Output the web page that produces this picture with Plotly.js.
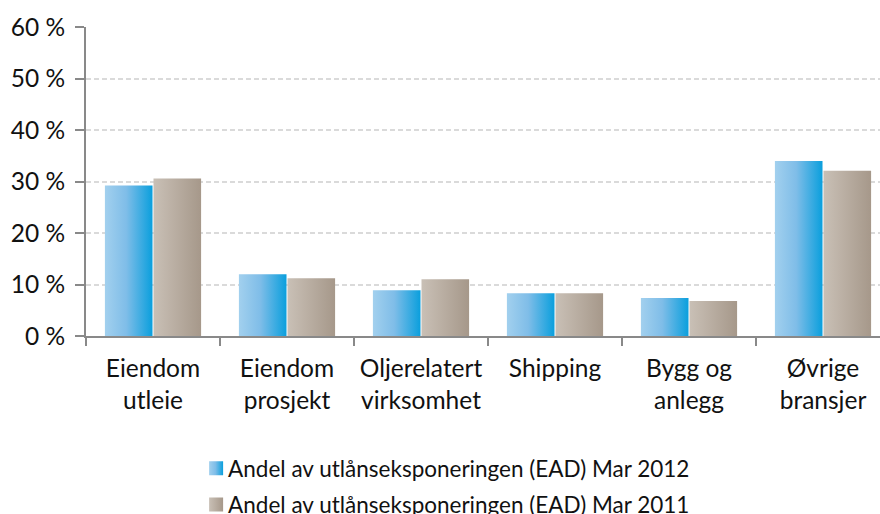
<!DOCTYPE html>
<html>
<head>
<meta charset="utf-8">
<script src="https://cdn.plot.ly/plotly-3.0.1.min.js"></script>
<style>
html,body{margin:0;padding:0;background:#fff;overflow:hidden;}
#chart{width:900px;height:540px;}
</style>
</head>
<body>
<div id="chart"></div>
<script>
const categories = ["Eiendom<br>utleie", "Eiendom<br>prosjekt", "Oljerelatert<br>virksomhet", "Shipping", "Bygg og<br>anlegg", "Øvrige<br>bransjer"];
const series2012Name = "Andel av utlånseksponeringen (EAD) Mar 2012";
const series2011Name = "Andel av utlånseksponeringen (EAD) Mar 2011";
const values2012 = [29.2, 12.0, 8.9, 8.3, 7.4, 34.0];
const values2011 = [30.6, 11.2, 11.0, 8.3, 6.8, 32.1];
const yTickVals = [0, 10, 20, 30, 40, 50, 60];

const FONT = "Lato, 'Open Sans', sans-serif";

const traces = [
  {type: "bar", name: series2012Name, legendgroup: "g2012", x: categories, y: values2012, marker: {color: "#4fb0e4"}, hoverinfo: "skip"},
  {type: "bar", name: series2011Name, legendgroup: "g2011", x: categories, y: values2011, marker: {color: "#b7aa9d"}, hoverinfo: "skip"}
];

const layout = {
  width: 900, height: 540,
  margin: {l: 86, r: 10, t: 27, b: 204},
  paper_bgcolor: "#fff", plot_bgcolor: "#fff",
  font: {family: FONT, size: 24, color: "#111"},
  barmode: "group",
  bargap: 0.275,
  bargroupgap: 0.02,
  showlegend: true,
  legend: {
    orientation: "v", x: 0.127, xanchor: "left", y: -0.36, yanchor: "top",
    font: {family: FONT, size: 22.5, color: "#111"},
    tracegroupgap: 4, itemwidth: 30
  },
  xaxis: {
    type: "category",
    showline: true, linecolor: "#898989", linewidth: 2,
    ticks: "outside", tickson: "boundaries", ticklen: 8, tickwidth: 2, tickcolor: "#898989",
    tickfont: {family: FONT, size: 24.5, color: "#111"},
    showgrid: false, zeroline: false, fixedrange: true, ticklabelstandoff: 10
  },
  yaxis: {
    range: [0, 60],
    tickvals: yTickVals, ticktext: yTickVals.map(v => v + " %"),
    showline: true, linecolor: "#898989", linewidth: 2,
    ticks: "outside", ticklen: 9, tickwidth: 2, tickcolor: "#898989",
    tickfont: {family: FONT, size: 24.5, color: "#111"},
    showgrid: true, gridcolor: "#dadada", gridwidth: 2, griddash: "5px,3px",
    zeroline: false, fixedrange: true, ticklabelstandoff: 5
  }
};

function applyGradients(gd) {
  const svg = gd.querySelector("svg.main-svg");
  const ns = "http://www.w3.org/2000/svg";
  const defs = document.createElementNS(ns, "defs");
  const grads = [
    {id: "grad2012", stops: [["0%", "#a2d0ee"], ["45%", "#7fbde8"], ["100%", "#0a9fdd"]]},
    {id: "grad2011", stops: [["0%", "#c9c0b6"], ["100%", "#a6988a"]]}
  ];
  grads.forEach(g => {
    const lg = document.createElementNS(ns, "linearGradient");
    lg.setAttribute("id", g.id);
    lg.setAttribute("x1", "0"); lg.setAttribute("y1", "0");
    lg.setAttribute("x2", "1"); lg.setAttribute("y2", "0");
    g.stops.forEach(s => {
      const st = document.createElementNS(ns, "stop");
      st.setAttribute("offset", s[0]);
      st.setAttribute("stop-color", s[1]);
      lg.appendChild(st);
    });
    defs.appendChild(lg);
  });
  svg.insertBefore(defs, svg.firstChild);
  const barTraces = gd.querySelectorAll("g.barlayer g.trace");
  barTraces.forEach((t, i) => {
    t.querySelectorAll("path").forEach(p => { p.style.fill = "url(#" + grads[i].id + ")"; });
  });
  const legTraces = gd.querySelectorAll(".legend g.traces");
  legTraces.forEach((t, i) => {
    const pts = t.querySelector(".legendpoints");
    if (pts) pts.setAttribute("transform", "translate(8,0)");
    t.querySelectorAll(".legendpoints path").forEach(p => {
      p.setAttribute("d", "M7,7H-7V-7H7Z");
      p.style.fill = "url(#" + grads[i].id + ")";
      p.style.stroke = "none";
    });
  });
}

Plotly.newPlot("chart", traces, layout, {staticPlot: true, displayModeBar: false}).then(applyGradients);
</script>
</body>
</html>
